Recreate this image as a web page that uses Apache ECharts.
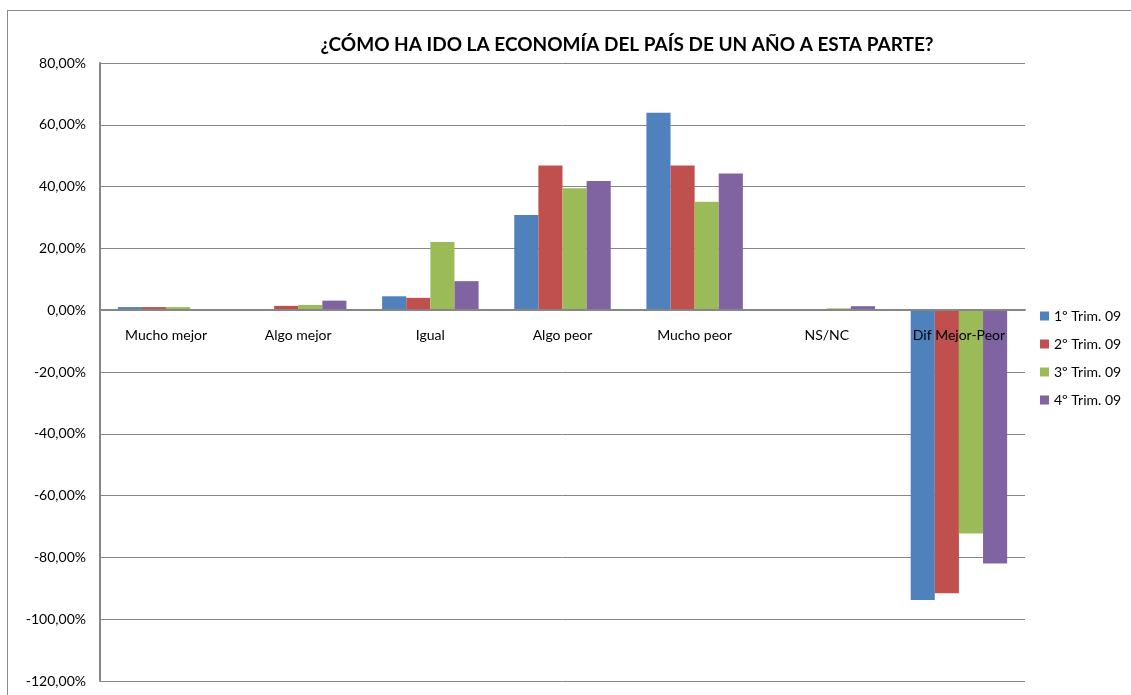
<!DOCTYPE html>
<html>
<head>
<meta charset="utf-8">
<script src="https://cdn.jsdelivr.net/npm/echarts@6/dist/echarts.min.js"></script>
<style>
  html, body { margin: 0; padding: 0; background: #fff; }
  #frame { position: absolute; left: 7px; top: 10px; width: 1140px; height: 700px; border: 1px solid #8c8c8c; }
  #chart-container { position: absolute; left: 0; top: 0; width: 1131px; height: 695px; }
</style>
</head>
<body>
<div id="frame"></div>
<div id="chart-container"></div>
<script>
var categories = ["Mucho mejor", "Algo mejor", "Igual", "Algo peor", "Mucho peor", "NS/NC", "Dif Mejor-Peor"];
var seriesNames = ["1º Trim. 09", "2º Trim. 09", "3º Trim. 09", "4º Trim. 09"];
var trim1 = [1.0, 0.0, 4.5, 30.8, 63.9, 0.0, -93.8];
var trim2 = [1.0, 1.4, 4.0, 46.8, 46.8, 0.0, -91.6];
var trim3 = [1.0, 1.7, 22.1, 39.5, 35.1, 0.6, -72.3];
var trim4 = [0.0, 3.1, 9.4, 41.8, 44.2, 1.3, -82.0];
var colors = ["#4f81bd", "#c0504d", "#9bbb59", "#8064a2"];

var dom = document.getElementById("chart-container");
var myChart = echarts.init(dom, null, { renderer: "canvas" });

var font = "Lato, 'Open Sans', sans-serif";
var allData = [trim1, trim2, trim3, trim4];

var option = {
  animation: false,
  textStyle: { fontFamily: font },
  title: {
    text: "¿CÓMO HA IDO LA ECONOMÍA DEL PAÍS DE UN AÑO A ESTA PARTE?",
    left: 622,
    top: 30,
    textAlign: "center",
    textStyle: { fontSize: 19, fontWeight: "bold", color: "#000", fontFamily: font }
  },
  legend: {
    orient: "vertical",
    left: 1035,
    top: 304,
    itemWidth: 9,
    itemHeight: 9,
    itemGap: 14,
    icon: "rect",
    textStyle: { fontSize: 14, color: "#000", fontFamily: font }
  },
  grid: { left: 100, right: 106, top: 63, bottom: 14 },
  xAxis: {
    type: "category",
    data: categories,
    position: "bottom",
    offset: -371,
    z: 5,
    axisLine: { onZero: false, lineStyle: { color: "#868686", width: 2 } },
    axisTick: { show: false },
    axisLabel: { margin: 18, fontSize: 14, color: "#000", fontFamily: font, interval: 0 }
  },
  yAxis: {
    type: "value",
    min: -120,
    max: 80,
    interval: 20,
    axisLine: { show: true, lineStyle: { color: "#868686", width: 2 } },
    axisTick: { show: false },
    splitLine: { lineStyle: { color: "#868686", width: 1 } },
    axisLabel: {
      margin: 14,
      fontSize: 14,
      color: "#000",
      fontFamily: font,
      formatter: function (v) { return v.toFixed(2).replace(".", ",") + "%"; }
    }
  },
  series: seriesNames.map(function (name, i) {
    return {
      name: name,
      type: "bar",
      data: allData[i],
      barGap: "0%",
      barCategoryGap: "27%",
      itemStyle: { color: colors[i] }
    };
  })
};

myChart.setOption(option);
window.addEventListener("resize", myChart.resize);
</script>
</body>
</html>
